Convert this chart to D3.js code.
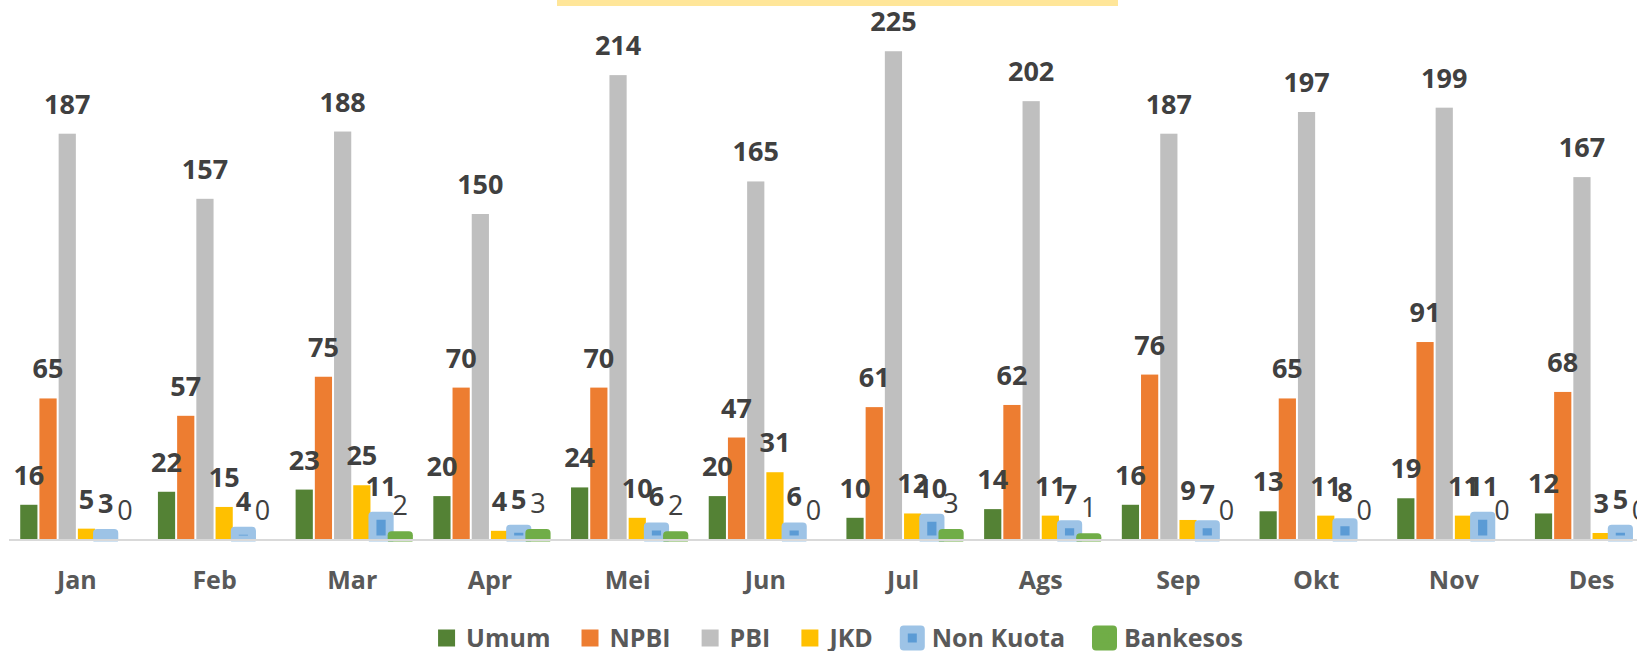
<!DOCTYPE html>
<html lang="id">
<head>
  <meta charset="utf-8">
  <title>Peserta per Bulan</title>
  <style>
    body {
      margin: 0;
      padding: 0;
      background-color: #fff;
      font-family: 'Open Sans', sans-serif;
    }
    svg { display: block; }
  </style>
</head>
<body>
  <div id="chart"></div>
  <script src="https://d3js.org/d3.v7.min.js"></script>
  <script>
    // data
    var months = ["Jan", "Feb", "Mar", "Apr", "Mei", "Jun", "Jul", "Ags", "Sep", "Okt", "Nov", "Des"];
    var seriesNames = ["Umum", "NPBI", "PBI", "JKD", "Non Kuota", "Bankesos"];
    var umum = [16, 22, 23, 20, 24, 20, 10, 14, 16, 13, 19, 12];
    var npbi = [65, 57, 75, 70, 70, 47, 61, 62, 76, 65, 91, 68];
    var pbi = [187, 157, 188, 150, 214, 165, 225, 202, 187, 197, 199, 167];
    var jkd = [5, 15, 25, 4, 10, 31, 12, 11, 9, 11, 11, 3];
    var nonKuota = [3, 4, 11, 5, 6, 6, 10, 7, 7, 8, 11, 5];
    var bankesos = [0, 0, 2, 3, 2, 0, 3, 1, 0, 0, 0, 0];

    var seriesValues = [umum, npbi, pbi, jkd, nonKuota, bankesos];

    // styles per series
    var fills = ["#548235", "#ED7D31", "#BFBFBF", "#FFC000", "#5B9BD5", "#70AD47"];
    var strokes = [null, null, null, null, "#9DC3E6", "#70AD47"];

    var width = 1637, height = 651;
    var baseline = 539.5;

    var svg = d3.select("#chart")
      .append("svg")
      .attr("width", width)
      .attr("height", height);

    // bit of the title box border peeking in at the top
    svg.append("rect")
      .attr("x", 557).attr("y", 0)
      .attr("width", 561).attr("height", 6)
      .attr("fill", "#FFE699");

    // flat table built from the arrays
    var table = [];
    months.forEach(function (m, i) {
      seriesNames.forEach(function (s, j) {
        table.push({ month: m, series: s, idx: j, value: seriesValues[j][i] });
      });
    });

    var x0 = d3.scaleBand()
      .domain(months)
      .range([8, 1660.4])
      .paddingInner(0.163)
      .paddingOuter(0.0815);

    var x1 = d3.scaleBand()
      .domain(seriesNames)
      .range([0, x0.bandwidth()]);

    var y = d3.scaleLinear()
      .domain([0, 250])
      .range([baseline, baseline - 250 * 2.17]);

    // clip so the thick outlines stop just under the axis
    svg.append("clipPath").attr("id", "plotclip")
      .append("rect")
      .attr("x", 0).attr("y", 0)
      .attr("width", width).attr("height", 541.5);

    var plot = svg.append("g").attr("clip-path", "url(#plotclip)");

    var pad = 1;
    plot.selectAll("rect.bar")
      .data(table)
      .enter()
      .append("rect")
      .attr("class", "bar")
      .attr("x", function (d) { return x0(d.month) + x1(d.series) + pad; })
      .attr("y", function (d) { return y(d.value); })
      .attr("width", x1.bandwidth() - 2 * pad)
      .attr("height", function (d) { return baseline - y(d.value); })
      .attr("fill", function (d) { return fills[d.idx]; })
      .attr("stroke", function (d) { return strokes[d.idx] || "none"; })
      .attr("stroke-width", function (d) { return strokes[d.idx] ? 8 : 0; })
      .attr("stroke-linejoin", "round");

    // axis line
    svg.append("line")
      .attr("x1", 9).attr("x2", width)
      .attr("y1", baseline + 0.5).attr("y2", baseline + 0.5)
      .attr("stroke", "#D9D9D9")
      .attr("stroke-width", 2);

    // category labels
    svg.append("g")
      .selectAll("text")
      .data(months)
      .enter()
      .append("text")
      .attr("x", function (d) { return x0(d) + x0.bandwidth() / 2; })
      .attr("y", 589)
      .attr("text-anchor", "middle")
      .attr("font-size", 25)
      .attr("font-weight", "bold")
      .attr("fill", "#595959")
      .text(function (d) { return d; });

    // data labels
    svg.append("g")
      .selectAll("text")
      .data(table)
      .enter()
      .append("text")
      .attr("x", function (d) { return x0(d.month) + x1(d.series) + x1.bandwidth() / 2; })
      .attr("y", function (d) { return y(d.value) - 20; })
      .attr("text-anchor", "middle")
      .attr("font-size", 27)
      .attr("font-weight", function (d) { return d.series === "Bankesos" ? "normal" : "bold"; })
      .attr("fill", "#404040")
      .text(function (d) { return d.value; });

    // legend, centred under the plot
    var legend = svg.append("g");
    var items = legend.selectAll("g")
      .data(seriesNames)
      .enter()
      .append("g");

    items.append("rect")
      .attr("x", 0).attr("y", 629.5)
      .attr("width", 17).attr("height", 17)
      .attr("fill", function (d, i) { return fills[i]; })
      .attr("stroke", function (d, i) { return strokes[i] || "none"; })
      .attr("stroke-width", function (d, i) { return strokes[i] ? 8 : 0; })
      .attr("stroke-linejoin", "round");

    items.append("text")
      .attr("x", 28)
      .attr("y", 647)
      .attr("font-size", 25)
      .attr("font-weight", "bold")
      .attr("fill", "#595959")
      .text(function (d) { return d; });

    var cursor = 0;
    var offsets = [];
    items.each(function () {
      var w = 28 + d3.select(this).select("text").node().getComputedTextLength();
      offsets.push(cursor);
      cursor += w + 31;
    });
    var total = cursor - 31;
    var start = 840.5 - total / 2;
    items.attr("transform", function (d, i) { return "translate(" + (start + offsets[i]) + ",0)"; });
  </script>
</body>
</html>
